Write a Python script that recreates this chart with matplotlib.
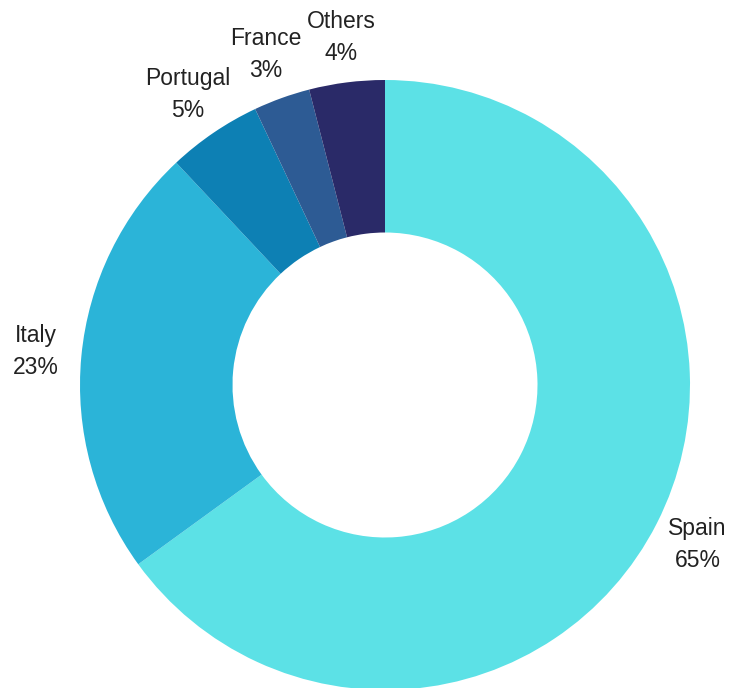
import matplotlib.pyplot as plt

countries = ["Spain", "Italy", "Portugal", "France", "Others"]
shares = [65, 23, 5, 3, 4]
colors = ["#5CE1E6", "#2BB4D8", "#0D80B4", "#2D5B94", "#2A2A68"]

W, H = 732, 688
cx, cy, R = 385, 385, 305

fig = plt.figure(figsize=(W / 100, H / 100), dpi=100)
ax = fig.add_axes([0, 0, 1, 1])

labels = [f"{c}\n{s}%" for c, s in zip(countries, shares)]
wedges, texts = ax.pie(
    shares,
    labels=labels,
    colors=colors,
    startangle=90,
    counterclock=False,
    labeldistance=1.15,
    wedgeprops=dict(width=0.5, linewidth=0),
    textprops=dict(fontsize=16.5, family="Liberation Sans", color="#222222",
                   ha="center", va="center", linespacing=1.5),
)
for t in texts:
    t.set_horizontalalignment("center")

# one data unit = outer radius in pixels
ax.set_xlim(-cx / R, (W - cx) / R)
ax.set_ylim(-(H - cy) / R, cy / R)
ax.set_aspect("equal")
ax.axis("off")

fig.savefig("out.png", dpi=100)
